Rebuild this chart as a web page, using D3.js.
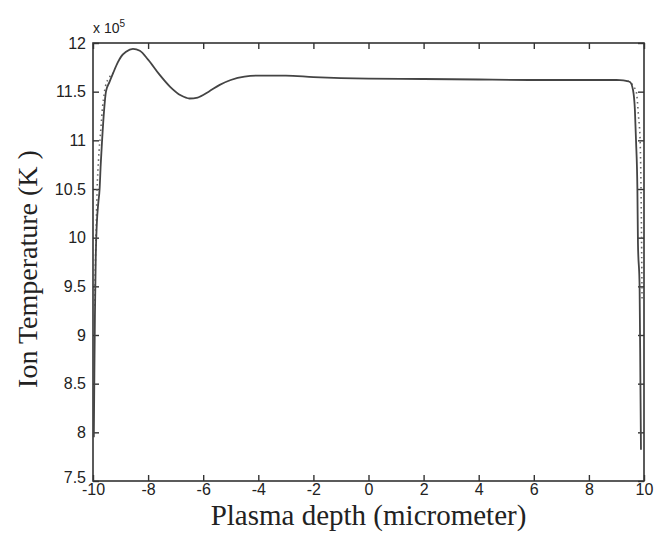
<!DOCTYPE html>
<html>
<head>
<meta charset="utf-8">
<script src="https://cdn.jsdelivr.net/npm/d3@7"></script>
<style>
  body { margin: 0; background: #fff; }
  svg text { fill: #222; }
</style>
</head>
<body>
<div id="chart"></div>
<script>
// plasma depth (micrometer) and ion temperature (x 10^5 K), solid curve
let depth = [-9.97, -9.95, -9.93, -9.9, -9.86, -9.81, -9.76, -9.72, -9.67, -9.6, -9.53, -9.4, -9.27, -9.1,
    -8.98, -8.8, -8.55, -8.3, -8.0, -7.6, -7.2, -6.8, -6.5, -6.2, -5.8, -5.4, -5.0, -4.5, -4.0,
    -3.0, -2.0, -1.0, 0, 2, 4, 6, 8, 9, 9.13, 9.35, 9.49, 9.6, 9.67, 9.71, 9.76, 9.78, 9.84, 9.87, 9.89];
let tempSolid = [7.95, 8.6, 9.2, 9.8, 10.15, 10.35, 10.5, 10.75, 11.0, 11.3, 11.5, 11.6, 11.69, 11.8,
    11.86, 11.91, 11.94, 11.92, 11.83, 11.68, 11.55, 11.46, 11.43, 11.44, 11.5, 11.57, 11.62, 11.655, 11.665,
    11.665, 11.65, 11.64, 11.635, 11.63, 11.625, 11.62, 11.62, 11.62, 11.618, 11.61, 11.6, 11.52, 11.31, 11.0, 10.5, 9.95, 9.5, 8.5, 7.82];

// dotted companion curve, which only parts from the solid one near the walls
let depthDotLeft = [-9.95, -9.9, -9.85, -9.8, -9.72, -9.65, -9.55, -9.4, -9.27];
let tempDotLeft = [9.3, 9.9, 10.5, 10.8, 11.1, 11.35, 11.55, 11.65, 11.69];
let depthDotRight = [9.4, 9.5, 9.6, 9.72, 9.8, 9.86, 9.9, 9.93];
let tempDotRight = [11.61, 11.6, 11.56, 11.5, 11.25, 11.0, 10.3, 9.35];

let xTicks = [-10, -8, -6, -4, -2, 0, 2, 4, 6, 8, 10];
let yTicks = [7.5, 8, 8.5, 9, 9.5, 10, 10.5, 11, 11.5, 12];

var width = 655,
    height = 535,
    margin = { top: 43, right: 11, bottom: 54, left: 93 };

var xScale = d3.scaleLinear()
    .domain([-10, 10])
    .range([margin.left, width - margin.right]);

var yScale = d3.scaleLinear()
    .domain([7.5, 12])
    .range([height - margin.bottom, margin.top]);

var svg = d3.select('#chart')
    .append('svg')
    .attr('width', width)
    .attr('height', height);

var axisColor = '#333';

// box
svg.append('rect')
    .attr('x', xScale(-10))
    .attr('y', yScale(12))
    .attr('width', xScale(10) - xScale(-10))
    .attr('height', yScale(7.5) - yScale(12))
    .attr('fill', 'none')
    .attr('stroke', axisColor)
    .attr('stroke-width', 1.6);

var fmt = d => String(d); // plain hyphen minus, like the original

// bottom axis, ticks inside
var xAxis = svg.append('g')
    .attr('transform', 'translate(0,' + yScale(7.5) + ')')
    .call(d3.axisBottom(xScale).tickValues(xTicks).tickSize(-6).tickPadding(3).tickFormat(fmt));
// top ticks
svg.append('g')
    .attr('transform', 'translate(0,' + yScale(12) + ')')
    .call(d3.axisTop(xScale).tickValues(xTicks).tickSize(-6).tickFormat(''));
// left axis
var yAxis = svg.append('g')
    .attr('transform', 'translate(' + xScale(-10) + ',0)')
    .call(d3.axisLeft(yScale).tickValues(yTicks).tickSize(-6).tickPadding(7).tickFormat(fmt));
// right ticks
svg.append('g')
    .attr('transform', 'translate(' + xScale(10) + ',0)')
    .call(d3.axisRight(yScale).tickValues(yTicks).tickSize(-6).tickFormat(''));

svg.selectAll('.domain').remove();
svg.selectAll('.tick line').attr('stroke', axisColor).attr('stroke-width', 1.4);
svg.selectAll('.tick text')
    .style('font-family', '"Liberation Sans", Arial, sans-serif')
    .style('font-size', '16px')
    .attr('fill', '#222');

// bottom-left label sits a bit higher, as matlab does
yAxis.selectAll('.tick text').filter(d => d == 7.5).attr('dy', '0.1em');

// exponent label
var expo = svg.append('text')
    .attr('x', xScale(-10))
    .attr('y', yScale(12) - 10)
    .style('font-family', '"Liberation Sans", Arial, sans-serif')
    .style('font-size', '14px');
expo.append('tspan').text('x 10');
expo.append('tspan').attr('dy', -6).style('font-size', '10px').text('5');

// curves
var line = d3.line()
    .x(d => xScale(d[0]))
    .y(d => yScale(d[1]))
    .curve(d3.curveMonotoneX);

[[depthDotLeft, tempDotLeft], [depthDotRight, tempDotRight]].forEach(s => {
    svg.append('path')
        .datum(s[0].map((d, i) => [d, s[1][i]]))
        .attr('d', line)
        .attr('fill', 'none')
        .attr('stroke', '#666')
        .attr('stroke-width', 1.6)
        .attr('stroke-dasharray', '1.5,3.5');
});

svg.append('path')
    .datum(depth.map((d, i) => [d, tempSolid[i]]))
    .attr('d', line)
    .attr('fill', 'none')
    .attr('stroke', '#444')
    .attr('stroke-width', 1.8);

// axis titles
svg.append('text')
    .attr('x', (xScale(-10) + xScale(10)) / 2)
    .attr('y', 525)
    .attr('text-anchor', 'middle')
    .style('font-family', '"Liberation Serif", "Times New Roman", serif')
    .style('font-size', '29px')
    .text('Plasma depth (micrometer)');

svg.append('text')
    .attr('transform', 'translate(37,269) rotate(-90)')
    .attr('text-anchor', 'middle')
    .style('font-family', '"Liberation Serif", "Times New Roman", serif')
    .style('font-size', '28px')
    .text('Ion Temperature (K )');
</script>
</body>
</html>
